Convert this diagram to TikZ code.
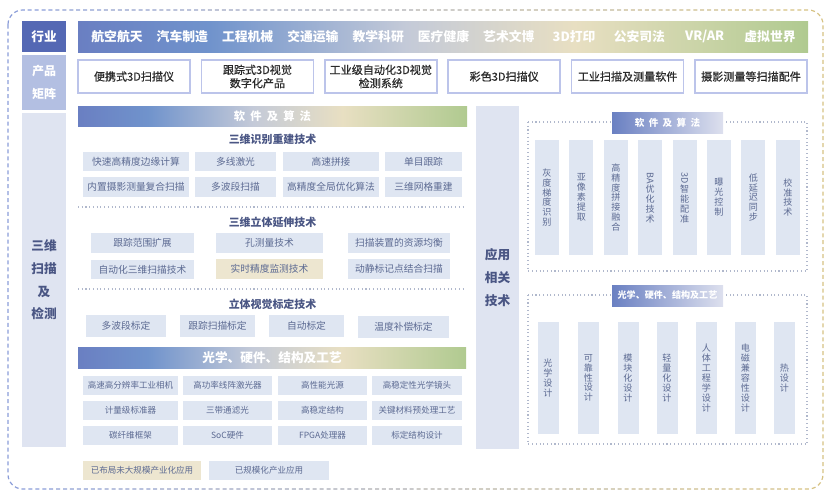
\documentclass[tikz,border=0pt]{standalone}
\usepackage{fontspec}
\setmainfont{Noto Sans CJK SC}
\newfontfamily\medfont[FakeBold=0.5]{Noto Sans CJK SC}
\usepackage{graphicx}

\definecolor{tagblue}{HTML}{5468B4}
\definecolor{matrixblue}{HTML}{B3BFE2}
\definecolor{colfill}{HTML}{DFE4F1}
\definecolor{cellfill}{HTML}{DFE6F2}
\definecolor{tanfill}{HTML}{EDE6D0}
\definecolor{celltext}{HTML}{5C6A92}
\definecolor{headtext}{HTML}{4A5684}
\definecolor{prodline}{HTML}{BCC4EA}
\definecolor{prodtext}{HTML}{2A2A2A}
\definecolor{dotline}{HTML}{B0B8CC}
\definecolor{bordblue}{HTML}{8A9CD8}
\definecolor{bordtan}{HTML}{D6C283}
\definecolor{bandA}{HTML}{6A7FC2}
\definecolor{bandB}{HTML}{7093CC}
\definecolor{bandC}{HTML}{C4CAD8}
\definecolor{bandD}{HTML}{E8DFC2}
\definecolor{bandE}{HTML}{B0CA90}
\definecolor{tabA}{HTML}{6A80C2}
\definecolor{tabB}{HTML}{DDE0EE}

\pgfdeclarehorizontalshading{bandshade}{100bp}{color(0bp)=(bandA); color(25bp)=(bandA); color(34bp)=(bandB); color(47.5bp)=(bandC); color(59bp)=(bandD); color(75bp)=(bandE); color(100bp)=(bandE)}

\newcommand\lsp{\hspace{.45em}}

\tikzset{
	sz/.style 2 args={minimum width=#1*0.75pt,minimum height=#2*0.75pt,inner sep=0pt},
	tag/.style={fill=tagblue,text=white,font=\bfseries\fontsize{9.5}{11}\selectfont},
	side/.style={fill=colfill,text=headtext,align=center,font=\bfseries\fontsize{9.5}{17}\selectfont},
	band/.style={shading=bandshade,text=white,font=\bfseries\fontsize{8.5}{10}\selectfont},
	indtext/.style={text=white,font=\bfseries\fontsize{9.6}{11}\selectfont},
	prod/.style={draw=prodline,line width=1.1pt,fill=white,text=prodtext,align=center,font=\medfont\fontsize{8.3}{10}\selectfont},
	head/.style={text=headtext,font=\bfseries\fontsize{8.2}{10}\selectfont},
	cell/.style={fill=cellfill,text=celltext,font=\fontsize{7.3}{9}\selectfont},
	hw/.style={fill=cellfill,text=celltext,font=\fontsize{6.4}{8}\selectfont},
	vcell/.style={fill=cellfill,text=celltext,align=center,font=\fontsize{6.8}{7.4}\selectfont},
	tab/.style={left color=tabA,right color=tabB,text=white,font=\bfseries\fontsize{7.2}{9}\selectfont},
	sep/.style={draw=dotline,dotted,line width=0.8pt},
	frame/.style={dash pattern=on 3pt off 2.2pt,line width=0.9pt,rounded corners=11pt}
}

\begin{document}
\begin{tikzpicture}[x=0.75pt,y=0.75pt,yscale=-1,xscale=1]
	\useasboundingbox (0,0) rectangle (832,496);
	% outer frame, blue to tan
	\foreach \i in {0,...,15} {
		\pgfmathsetmacro\mixval{100-\i*100/15}
		\begin{scope}
			\clip (\i*52,0) rectangle ({(\i+1)*52},496);
			\draw[frame,color=bordblue!\mixval!bordtan] (8,10) rectangle (823,489);
		\end{scope}
	}
	% industries
	\node[tag,sz={44}{31}] (hy) at (44,36.5) {行业};
	\node[band,sz={730}{31}] (hyband) at (443,36.5) {};
	\node[indtext] (i1) at (117,36.5) {航空航天};
	\node[indtext] (i2) at (182.3,36.5) {汽车制造};
	\node[indtext] (i3) at (247.6,36.5) {工程机械};
	\node[indtext] (i4) at (312.9,36.5) {交通运输};
	\node[indtext] (i5) at (378.2,36.5) {教学科研};
	\node[indtext] (i6) at (443.5,36.5) {医疗健康};
	\node[indtext] (i7) at (508.8,36.5) {艺术文博};
	\node[indtext] (i8) at (574.1,36.5) {3D打印};
	\node[indtext] (i9) at (639.4,36.5) {公安司法};
	\node[indtext] (i10) at (704.7,36.5) {VR/AR};
	\node[indtext] (i11) at (770,36.5) {虚拟世界};
	% products
	\node[side,fill=matrixblue,text=white,sz={44}{55},font=\bfseries\fontsize{9}{17}\selectfont] (cp) at (44,82.5) {产品\\矩阵};
	\node[prod,sz={112}{33}] (p1) at (134,76.5) {便携式3D扫描仪};
	\node[prod,sz={112}{33}] (p2) at (257.4,76.5) {跟踪式3D视觉\\数字化产品};
	\node[prod,sz={112}{33}] (p3) at (380.8,76.5) {工业级自动化3D视觉\\检测系统};
	\node[prod,sz={112}{33}] (p4) at (504.2,76.5) {彩色3D扫描仪};
	\node[prod,sz={112}{33}] (p5) at (627.6,76.5) {工业扫描及测量软件};
	\node[prod,sz={112}{33}] (p6) at (751,76.5) {摄影测量等扫描配件};
	% scanning and measuring
	\node[side,sz={44}{334}] (smjc) at (44,280) {三维\\扫描\\及\\检测};
	\node[band,sz={389}{20}] (rj) at (272.5,116) {软\lsp 件\lsp 及\lsp 算\lsp 法};
	\node[head] (h1) at (272.5,139) {三维识别重建技术};
	\node[cell,sz={106}{19.5}] (a1) at (136,161.5) {快速高精度边缘计算};
	\node[cell,sz={81}{19.5}] (a2) at (235.5,161.5) {多线激光};
	\node[cell,sz={96}{19.5}] (a3) at (331,161.5) {高速拼接};
	\node[cell,sz={77}{19.5}] (a4) at (423.5,161.5) {单目跟踪};
	\node[cell,sz={106}{19.5}] (a5) at (136,187) {内置摄影测量复合扫描};
	\node[cell,sz={81}{19.5}] (a6) at (235.5,187) {多波段扫描};
	\node[cell,sz={96}{19.5}] (a7) at (331,187) {高精度全局优化算法};
	\node[cell,sz={77}{19.5}] (a8) at (423.5,187) {三维网格重建};
	\coordinate (s1a) at (78,207);
	\coordinate (s1b) at (463,207);
	\draw[sep] (s1a) -- (s1b);
	\node[head] (h2) at (272.5,222) {三维立体延伸技术};
	\node[cell,sz={103}{20}] (b1) at (142.5,243) {跟踪范围扩展};
	\node[cell,sz={107}{20}] (b2) at (269.5,243) {孔测量技术};
	\node[cell,sz={102}{20}] (b3) at (399,243) {扫描装置的资源均衡};
	\node[cell,sz={103}{19}] (b4) at (142.5,269.5) {自动化三维扫描技术};
	\node[cell,fill=tanfill,sz={107}{20}] (b5) at (269.5,269) {实时精度监测技术};
	\node[cell,sz={102}{20}] (b6) at (399,269) {动静标记点结合扫描};
	\coordinate (s2a) at (78,289);
	\coordinate (s2b) at (463,289);
	\draw[sep] (s2a) -- (s2b);
	\node[head] (h3) at (272.5,304) {立体视觉标定技术};
	\node[cell,sz={80}{22}] (c1) at (126,326) {多波段标定};
	\node[cell,sz={75}{22}] (c2) at (217.5,326) {跟踪扫描标定};
	\node[cell,sz={75}{22}] (c3) at (306.5,326) {自动标定};
	\node[cell,sz={91}{22}] (c4) at (403.5,326.5) {温度补偿标定};
	\node[band,sz={388}{21},font=\bfseries\fontsize{9.5}{11}\selectfont] (gx) at (272,357.5) {光学、硬件、结构及工艺};
	\node[hw,sz={95}{19}] (d1) at (130.5,385) {高速高分辨率工业相机};
	\node[hw,sz={89}{19}] (d2) at (227.5,385) {高功率线阵激光器};
	\node[hw,sz={89}{19}] (d3) at (322.5,385) {高性能光源};
	\node[hw,sz={90}{19}] (d4) at (417,385) {高稳定性光学镜头};
	\node[hw,sz={95}{19}] (d5) at (130.5,410.5) {计量级标准器};
	\node[hw,sz={89}{19}] (d6) at (227.5,410.5) {三带通滤光};
	\node[hw,sz={89}{19}] (d7) at (322.5,410.5) {高稳定结构};
	\node[hw,sz={90}{19}] (d8) at (417,410.5) {关键材料预处理工艺};
	\node[hw,sz={95}{19}] (d9) at (130.5,435.5) {碳纤维框架};
	\node[hw,sz={89}{19}] (d10) at (227.5,435.5) {SoC硬件};
	\node[hw,sz={89}{19}] (d11) at (322.5,435.5) {FPGA处理器};
	\node[hw,sz={90}{19}] (d12) at (417,435.5) {标定结构设计};
	% legend
	\node[hw,fill=tanfill,sz={118}{19}] (lg1) at (142,470.5) {已布局未大规模产业化应用};
	\node[hw,sz={120}{19}] (lg2) at (269,470.5) {已规模化产业应用};
	% related techniques
	\node[side,sz={43}{343}] (yy) at (497.5,277.5) {应用\\相关\\技术};
	\draw[sep] (528,122) rectangle (807,271);
	\node[tab,sz={111}{21}] (t1) at (667.5,122.5) {软\lsp 件\lsp 及\lsp 算\lsp 法};
	\node[vcell,sz={24}{115}] (v1) at (547,197.5) {灰\\度\\梯\\度\\识\\别};
	\node[vcell,sz={24}{115}] (v2) at (581.4,197.5) {亚\\像\\素\\提\\取};
	\node[vcell,sz={24}{115}] (v3) at (615.8,197.5) {高\\精\\度\\拼\\接\\融\\合};
	\node[vcell,sz={24}{115}] (v4) at (650.2,197.5) {\rotatebox[origin=c]{-90}{BA}\\优\\化\\技\\术};
	\node[vcell,sz={24}{115}] (v5) at (684.6,197.5) {\rotatebox[origin=c]{-90}{3D}\\智\\能\\配\\准};
	\node[vcell,sz={24}{115}] (v6) at (719,197.5) {曝\\光\\控\\制};
	\node[vcell,sz={24}{115}] (v7) at (753.4,197.5) {低\\延\\迟\\同\\步};
	\node[vcell,sz={24}{115}] (v8) at (787.8,197.5) {校\\准\\技\\术};
	\draw[sep] (528,295) rectangle (807,444);
	\node[tab,sz={111}{21},font=\bfseries\fontsize{6.8}{8}\selectfont] (t2) at (667.5,295.5) {光学、硬件、结构及工艺};
	\node[vcell,sz={21}{112}] (w1) at (548,378) {光\\学\\设\\计};
	\node[vcell,sz={21}{112}] (w2) at (588.5,378) {可\\靠\\性\\设\\计};
	\node[vcell,sz={21}{112}] (w3) at (628,378) {模\\块\\化\\设\\计};
	\node[vcell,sz={21}{112}] (w4) at (667,378) {轻\\量\\化\\设\\计};
	\node[vcell,sz={21}{112}] (w5) at (706.5,378) {人\\体\\工\\程\\学\\设\\计};
	\node[vcell,sz={21}{112}] (w6) at (745.5,378) {电\\磁\\兼\\容\\性\\设\\计};
	\node[vcell,sz={21}{112}] (w7) at (784.5,378) {热\\设\\计};
\end{tikzpicture}
\end{document}
